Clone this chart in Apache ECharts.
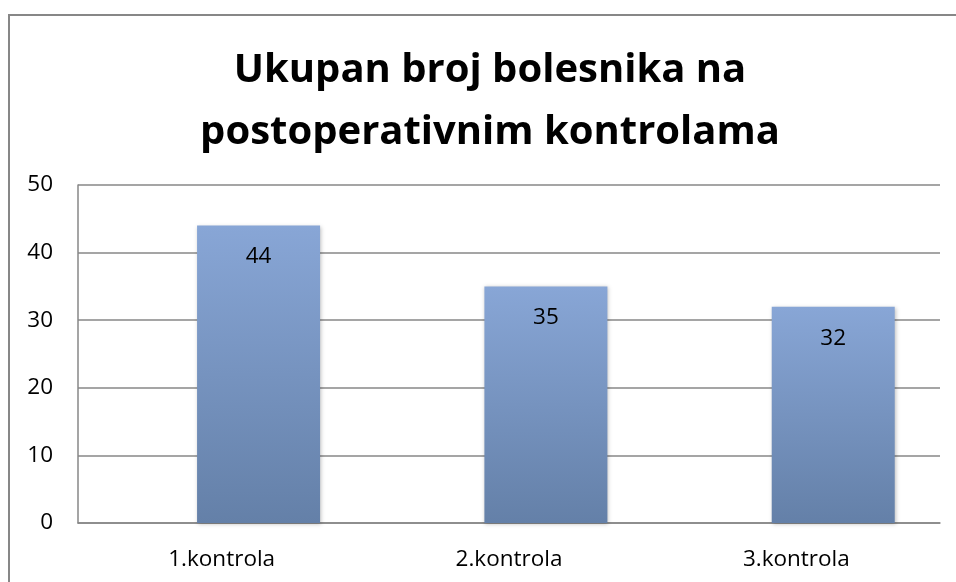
<!DOCTYPE html>
<html><head><meta charset="utf-8">
<script src="https://cdn.jsdelivr.net/npm/echarts@6/dist/echarts.min.js"></script>
<style>
html,body{margin:0;padding:0;background:#fff;}
#frame{position:absolute;left:8px;top:14px;width:960px;height:600px;border:2px solid #878787;box-sizing:border-box;}
#c{position:absolute;left:0;top:0;width:956px;height:582px;}
</style></head>
<body>
<div id="frame"></div>
<div id="c"></div>
<script>
const categories = ['1.kontrola', '2.kontrola', '3.kontrola'];
const values = [44, 35, 32];
const titleText = 'Ukupan broj bolesnika na\npostoperativnim kontrolama';

const FONT = 'Open Sans';
const chart = echarts.init(document.getElementById('c'));
chart.setOption({
  animation: false,
  title: {
    text: titleText,
    left: 485, top: 35, textAlign: 'center',
    textStyle: { fontFamily: FONT, fontWeight: 'bold', fontSize: 40, lineHeight: 62, color: '#000' }
  },
  grid: { left: 78, right: 16, top: 185, bottom: 59 },
  xAxis: {
    type: 'category', data: categories,
    axisLine: { lineStyle: { color: '#878787', width: 1.5 } },
    axisTick: { show: false },
    axisLabel: { color: '#000', fontSize: 22.5, fontFamily: FONT, margin: 25 }
  },
  yAxis: {
    type: 'value', min: 0, max: 50, interval: 10,
    axisLine: { show: true, lineStyle: { color: '#878787', width: 1.5 } },
    axisLabel: { color: '#000', fontSize: 22.5, fontFamily: FONT, margin: 25 },
    splitLine: { lineStyle: { color: '#878787', width: 1.5 } }
  },
  series: [{
    type: 'bar', data: [], barWidth: 123, barGap: '-40%', silent: true
  }, {
    type: 'bar', data: values, barWidth: 123, barGap: '-40%',
    itemStyle: {
      color: new echarts.graphic.LinearGradient(0, 0, 0, 1, [
        { offset: 0, color: '#88a6d6' },
        { offset: 1, color: '#6480a8' }
      ]),
      shadowColor: 'rgba(0,0,0,0.25)', shadowBlur: 4, shadowOffsetX: 1, shadowOffsetY: 1
    },
    label: { show: true, position: 'insideTop', distance: 20, color: '#000', fontSize: 22.5, fontFamily: FONT }
  }]
});
</script>
</body></html>
